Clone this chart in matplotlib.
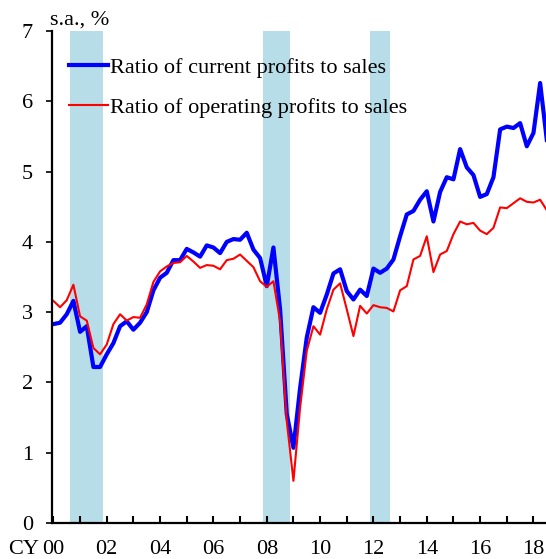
import matplotlib
matplotlib.use('Agg')
import matplotlib.pyplot as plt
import numpy as np

# ---- data (quarterly, 2000Q1 onward, s.a., %) ----
start_year = 2000
current_profits = [2.83, 2.85, 2.97, 3.16, 2.72, 2.80, 2.22, 2.22,
                   2.40, 2.56, 2.80, 2.87, 2.75, 2.85, 3.00, 3.31,
                   3.49, 3.56, 3.74, 3.74, 3.90, 3.85, 3.79, 3.95,
                   3.92, 3.84, 4.00, 4.04, 4.03, 4.13, 3.89, 3.77,
                   3.37, 3.92, 3.04, 1.55, 1.07, 1.92, 2.64, 3.07,
                   2.99, 3.25, 3.55, 3.61, 3.30, 3.18, 3.32, 3.23,
                   3.62, 3.56, 3.62, 3.75, 4.08, 4.39, 4.44, 4.60,
                   4.72, 4.29, 4.71, 4.92, 4.89, 5.32, 5.06, 4.95,
                   4.64, 4.68, 4.92, 5.60, 5.64, 5.62, 5.69, 5.36,
                   5.55, 6.26, 5.45]
operating_profits = [3.16, 3.07, 3.17, 3.39, 2.94, 2.88, 2.49, 2.40,
                     2.54, 2.83, 2.97, 2.88, 2.93, 2.92, 3.11, 3.43,
                     3.58, 3.65, 3.70, 3.71, 3.80, 3.72, 3.63, 3.67,
                     3.66, 3.61, 3.74, 3.76, 3.82, 3.73, 3.64, 3.44,
                     3.36, 3.44, 2.87, 1.45, 0.60, 1.64, 2.45, 2.80,
                     2.68, 3.04, 3.32, 3.41, 3.04, 2.66, 3.09, 2.98,
                     3.10, 3.07, 3.06, 3.01, 3.31, 3.37, 3.75, 3.80,
                     4.08, 3.57, 3.82, 3.87, 4.11, 4.29, 4.25, 4.27,
                     4.16, 4.11, 4.20, 4.49, 4.48, 4.55, 4.62, 4.57,
                     4.56, 4.60, 4.45]
# recession periods (first and last quarter shaded)
recessions = [("2000Q4", "2001Q4"), ("2008Q1", "2008Q4"), ("2012Q1", "2012Q3")]
tick_years = list(range(2000, 2019))
tick_labels = [f"{y % 100:02d}" if y % 2 == 0 else "" for y in tick_years]
series_labels = ["Ratio of current profits to sales",
                 "Ratio of operating profits to sales"]

# ---- styling ----
plt.rcParams['font.family'] = ['Liberation Serif', 'DejaVu Serif']
FS = 16
band_color = '#b6dde8'

def q_to_x(q):
    y, qq = q.split('Q')
    return int(y) + (int(qq) - 1) / 4

fig = plt.figure(figsize=(5.46, 5.59), dpi=100)
ax = fig.add_axes([0.0958, 0.0644, 0.9042, 0.8801])

x = start_year + np.arange(len(current_profits)) / 4

for s, e in recessions:
    ax.axvspan(q_to_x(s) - 0.125, q_to_x(e) + 0.125, color=band_color, lw=0, zorder=0)

ax.plot(x, current_profits, color='#0000ff', lw=3.0, label=series_labels[0], zorder=3)
ax.plot(x, operating_profits, color='#ff0000', lw=1.5, label=series_labels[1], zorder=4)

ax.set_xlim(1999.959, 2018.47)
ax.set_ylim(0, 7)

for side in ['top', 'right']:
    ax.spines[side].set_visible(False)
for side in ['left', 'bottom']:
    ax.spines[side].set_linewidth(1.6)
    ax.spines[side].set_zorder(5)

ax.set_yticks(range(0, 8))
ax.tick_params(axis='y', direction='out', length=4, width=1.2, pad=10, labelsize=FS)
ax.set_xticks(tick_years)
ax.set_xticklabels(tick_labels)
ax.tick_params(axis='x', direction='in', length=5, width=1.5, pad=12, labelsize=FS)

leg = ax.legend(loc='upper left', bbox_to_anchor=(0.0345, 0.947), frameon=False,
                fontsize=FS, handlelength=1.73, handletextpad=0.08,
                labelspacing=0.88, borderpad=0, borderaxespad=0)

fig.text(8 / 546, (559 - 554.5) / 559, 'CY', fontsize=FS, ha='left', va='baseline')
fig.text(50 / 546, (559 - 25) / 559, 's.a., %', fontsize=FS, ha='left', va='baseline')

fig.savefig('out.png', dpi=100)
